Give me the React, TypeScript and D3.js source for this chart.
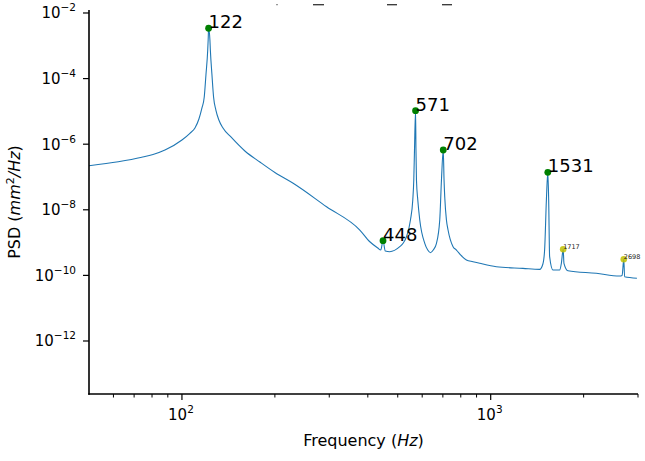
import * as d3 from 'd3';

// PSD curve (Hz, mm^2/Hz)
const freqHz = [
  50, 62.2, 74.1, 80.6, 88.1, 100, 106.1, 110.2, 113.5, 116.1,
  118.1, 119.6, 121.2, 121.6, 122, 123.2, 123.6, 125.1, 126.6, 128.8,
  131.7, 135.8, 144.1, 159.9, 178.8, 200, 229.2, 294, 376.8,
  406, 430.8, 440.6, 448, 455.6, 471.1, 507.6, 520.3, 533.6, 549.7,
  559.3, 563.5, 566.5, 571, 572.8, 574.9, 580.6, 589.2, 611.6, 625.4,
  638.2, 651.6, 667.4, 683.9, 692.7, 702, 706.2, 709.8, 718.9, 727.6,
  755.3, 774.5, 805.7, 834.4, 876.4, 921.3, 1043, 1272, 1441, 1476,
  1495, 1515, 1531, 1541, 1552, 1591, 1672, 1694, 1717, 1727,
  1779, 2198, 2615, 2665, 2698, 2715, 2976,
];
const psd = [
  2.21e-7, 2.92e-7, 3.99e-7, 4.85e-7, 6.65e-7, 1.34e-6, 2.15e-6, 3.12e-6, 5.86e-6, 1.27e-5,
  2.75e-5, 1.29e-4, 7.45e-4, 1.5e-3, 3.42e-3, 1.5e-3, 7.45e-4, 1.29e-4, 2.75e-5, 1.1e-5,
  5.47e-6, 3.12e-6, 1.66e-6, 6.21e-7, 2.86e-7, 1.37e-7, 6.43e-8, 1.24e-8, 2.42e-9,
  1.06e-9, 6.84e-10, 5.94e-10, 1.14e-9, 5.55e-10, 5.28e-10, 7.5e-10, 9.52e-10, 1.51e-9, 4.89e-9,
  1.99e-8, 8.11e-8, 6.65e-7, 1.05e-5, 6.65e-7, 8.11e-8, 1.99e-8, 4.89e-9, 9.52e-10, 5.94e-10,
  4.92e-10, 5.94e-10, 9.52e-10, 4.89e-9, 8.11e-8, 6.65e-7, 8.11e-8, 2.51e-8, 4.89e-9, 2.42e-9,
  7.5e-10, 5.94e-10, 3.9e-10, 2.95e-10, 2.62e-10, 2.34e-10, 1.84e-10, 1.64e-10, 1.53e-10, 2.23e-10,
  5.94e-10, 1.99e-8, 1.39e-7, 1.99e-8, 3.72e-10, 1.46e-10, 1.46e-10, 2.34e-10, 6.25e-10, 2.34e-10,
  1.39e-10, 1.16e-10, 9.6e-11, 1.0e-10, 3.1e-10, 9.1e-11, 8.2e-11,
];

// picked peaks (green) and secondary peaks (yellow)
const peakFreq = [122, 448, 571, 702, 1531];
const peakPsd = [3.42e-3, 1.14e-9, 1.05e-5, 6.65e-7, 1.39e-7];
const minorFreq = [1717, 2698];
const minorPsd = [6.25e-10, 3.1e-10];

const yTickExp = [-2, -4, -6, -8, -10, -12];
const xMajor = [100, 1000];
const xMinor = [60, 70, 80, 90, 200, 300, 400, 500, 600, 700, 800, 900, 2000, 3000];

const W = 645;
const H = 461;
const left = 89;
const right = 638;
const top = 10;
const bottom = 394;
const font = 'DejaVu Sans, sans-serif';

export default function App() {
  const x = d3.scaleLog().domain([50, 3000]).range([left, right]);
  const y = d3.scaleLog().domain([Math.pow(10, -13.616), Math.pow(10, -1.909)]).range([bottom, top]);

  const pts = freqHz.map((f, i) => [f, psd[i]] as [number, number]);
  const line = d3.line<[number, number]>()
    .x(d => x(d[0]))
    .y(d => y(d[1]))
    .curve(d3.curveMonotoneX);

  return (
    <div style={{ position: 'absolute', left: 0, top: 0 }}>
      <svg width={W} height={H} style={{ display: 'block', background: '#fff' }} fontFamily={font}>
        {/* bits of a clipped title at the top edge */}
        <g stroke="#333" strokeWidth={1.3}>
          <line x1={276.5} x2={277.5} y1={4.7} y2={4.7} />
          <line x1={313} x2={324} y1={4.7} y2={4.7} />
          <line x1={387} x2={397} y1={4.7} y2={4.7} />
          <line x1={442} x2={452} y1={4.7} y2={4.7} />
        </g>

        <path d={line(pts) || ''} fill="none" stroke="#1f77b4" strokeWidth={1.1} strokeLinejoin="round" />

        {peakFreq.map((f, i) => (
          <g key={'p' + f}>
            <circle cx={x(f)} cy={y(peakPsd[i])} r={3.4} fill="#008000" />
            <text x={x(f)} y={y(peakPsd[i])} fontSize={18} fill="#000">{String(f)}</text>
          </g>
        ))}
        {minorFreq.map((f, i) => (
          <g key={'m' + f}>
            <circle cx={x(f)} cy={y(minorPsd[i])} r={3.3} fill="#bfbf00" opacity={0.85} />
            <text x={x(f)} y={y(minorPsd[i])} fontSize={6.5} fill="#222">{String(f)}</text>
          </g>
        ))}

        {/* spines */}
        <line x1={left} x2={left} y1={top} y2={bottom + 0.8} stroke="#000" strokeWidth={1.6} />
        <line x1={left - 0.8} x2={right} y1={bottom} y2={bottom} stroke="#000" strokeWidth={1.6} />

        {/* y ticks */}
        {yTickExp.map(e => {
          const yy = y(Math.pow(10, e));
          return (
            <g key={'y' + e}>
              <line x1={left - 6} x2={left} y1={yy} y2={yy} stroke="#000" strokeWidth={1.2} />
              <text x={left - 13} y={yy + 5.5} fontSize={15} textAnchor="end" fill="#000">
                10<tspan dy={-7} fontSize={10.5}>{'\u2212' + Math.abs(e)}</tspan>
              </text>
            </g>
          );
        })}

        {/* x ticks */}
        {xMinor.map(v => (
          <line key={'xm' + v} x1={x(v)} x2={x(v)} y1={bottom} y2={bottom + 3.5} stroke="#000" strokeWidth={1} />
        ))}
        {xMajor.map(v => {
          const xx = x(v);
          return (
            <g key={'xM' + v}>
              <line x1={xx} x2={xx} y1={bottom} y2={bottom + 6} stroke="#000" strokeWidth={1.2} />
              <text x={xx - 1} y={420} fontSize={15} textAnchor="middle" fill="#000">
                10<tspan dy={-7} fontSize={10.5}>{String(Math.log10(v))}</tspan>
              </text>
            </g>
          );
        })}

        {/* axis labels */}
        <text x={(left + right) / 2} y={446} fontSize={16} textAnchor="middle" fill="#000">
          Frequency (<tspan fontStyle="italic">Hz</tspan>)
        </text>
        <text transform={`translate(20,${(top + bottom) / 2}) rotate(-90)`} fontSize={16} textAnchor="middle" fill="#000">
          PSD (<tspan fontStyle="italic">mm</tspan><tspan dy={-6} fontSize={11}>2</tspan><tspan dy={6} fontStyle="italic">/Hz</tspan>)
        </text>
      </svg>
    </div>
  );
}
